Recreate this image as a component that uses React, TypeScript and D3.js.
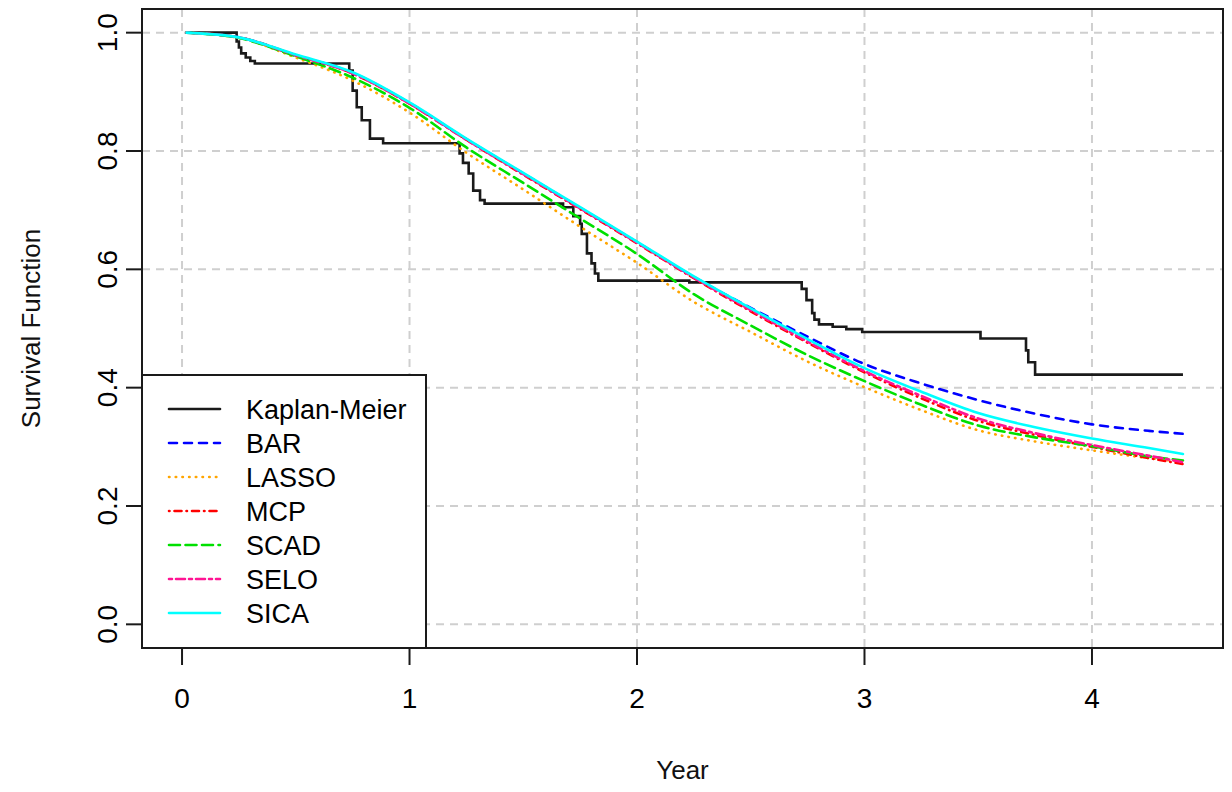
import React from 'react';
import * as d3 from 'd3';

// Kaplan-Meier step estimate (value holds after each time)
const kmTime = [0.02, 0.24, 0.25, 0.26, 0.28, 0.3, 0.32, 0.735, 0.75, 0.768, 0.79, 0.826, 0.884,
  1.22, 1.235, 1.26, 1.28, 1.31, 1.33, 1.675, 1.72, 1.75, 1.757, 1.78, 1.8, 1.815, 1.83, 2.23,
  2.724, 2.745, 2.77, 2.78, 2.8, 2.86, 2.92, 2.99, 3.51, 3.71, 3.72, 3.75, 4.4];
const kmSurv = [1.0, 0.985, 0.975, 0.965, 0.958, 0.952, 0.948, 0.936, 0.902, 0.874, 0.852, 0.821, 0.813,
  0.796, 0.78, 0.762, 0.733, 0.717, 0.711, 0.705, 0.69, 0.677, 0.66, 0.627, 0.61, 0.593, 0.581, 0.578,
  0.567, 0.548, 0.526, 0.515, 0.507, 0.503, 0.499, 0.494, 0.483, 0.463, 0.443, 0.422, 0.422];

// model-based survival curves
const modelTime = [0.02, 0.25, 0.5, 0.75, 1, 1.25, 1.5, 1.75, 2, 2.25, 2.5, 2.75, 3, 3.25, 3.5, 3.75, 4, 4.25, 4.4];
const barSurv = [1, 0.992, 0.962, 0.932, 0.881, 0.82, 0.762, 0.704, 0.646, 0.587, 0.535, 0.486, 0.44, 0.407, 0.379, 0.356, 0.338, 0.327, 0.322];
const lassoSurv = [1, 0.991, 0.958, 0.919, 0.865, 0.797, 0.735, 0.672, 0.611, 0.545, 0.494, 0.444, 0.401, 0.362, 0.328, 0.309, 0.294, 0.281, 0.275];
const mcpSurv = [1, 0.992, 0.962, 0.931, 0.88, 0.819, 0.76, 0.702, 0.644, 0.585, 0.529, 0.476, 0.426, 0.382, 0.344, 0.32, 0.3, 0.281, 0.271];
const scadSurv = [1, 0.991, 0.96, 0.924, 0.873, 0.806, 0.746, 0.686, 0.626, 0.558, 0.505, 0.455, 0.411, 0.371, 0.336, 0.316, 0.301, 0.284, 0.277];
const seloSurv = [1, 0.992, 0.962, 0.931, 0.88, 0.819, 0.761, 0.703, 0.645, 0.586, 0.531, 0.478, 0.428, 0.386, 0.348, 0.323, 0.303, 0.285, 0.274];
const sicaSurv = [1, 0.992, 0.963, 0.933, 0.882, 0.821, 0.763, 0.705, 0.647, 0.588, 0.534, 0.482, 0.433, 0.393, 0.357, 0.333, 0.314, 0.298, 0.288];

const xTicks = [0, 1, 2, 3, 4];
const yTicks = [0, 0.2, 0.4, 0.6, 0.8, 1.0];

const seriesNames = ['Kaplan-Meier', 'BAR', 'LASSO', 'MCP', 'SCAD', 'SELO', 'SICA'];
const seriesColors = ['#1a1a1a', '#0000ff', '#ffa500', '#ff0000', '#00e000', '#ff1493', '#00ffff'];
const seriesDash = [null, '8,7', '0.5,6.2', '0.5,5,7,5', '11,5.5', '3,4,9,4', null];

const FONT = 'Liberation Sans, Arial, sans-serif';

export default function App() {
  const left = 142, right = 1223, top = 9, bottom = 648;

  // R style 4% padding on the data range
  const x = d3.scaleLinear().domain([-0.176, 4.576]).range([left, right]);
  const y = d3.scaleLinear().domain([-0.04, 1.04]).range([bottom, top]);

  const kmLine = d3.line<number>()
    .x((_, i) => x(kmTime[i]))
    .y(d => y(d))
    .curve(d3.curveStepAfter);

  const modelLine = d3.line<number>()
    .x((_, i) => x(modelTime[i]))
    .y(d => y(d))
    .curve(d3.curveMonotoneX);

  const models = [barSurv, lassoSurv, mcpSurv, scadSurv, seloSurv, sicaSurv];

  // legend box
  const legLeft = left, legRight = 426, legTop = 375;
  const legRow0 = 409, legStep = 34;

  return (
    <svg width={1232} height={792} style={{ position: 'absolute', left: 0, top: 0, background: '#fff' }}
      fontFamily={FONT}>
      <rect x={0} y={0} width={1232} height={792} fill="#fff" />

      {/* grid */}
      <g stroke="#cfcfcf" strokeWidth={2} strokeDasharray="8,6">
        {xTicks.map(t => (
          <line key={'gx' + t} x1={x(t)} x2={x(t)} y1={top} y2={bottom} />
        ))}
        {yTicks.map(t => (
          <line key={'gy' + t} x1={left} x2={right} y1={y(t)} y2={y(t)} />
        ))}
      </g>

      {/* curves */}
      <path d={kmLine(kmSurv) || ''} fill="none" stroke={seriesColors[0]} strokeWidth={2.6} />
      {models.map((m, i) => (
        <path key={seriesNames[i + 1]} d={modelLine(m) || ''} fill="none"
          stroke={seriesColors[i + 1]} strokeWidth={2.6} strokeLinecap="round"
          strokeDasharray={seriesDash[i + 1] || undefined} />
      ))}

      {/* legend */}
      <rect x={legLeft} y={legTop} width={legRight - legLeft} height={bottom - legTop}
        fill="#fff" stroke="#1a1a1a" strokeWidth={2} />
      {seriesNames.map((name, i) => {
        const ly = legRow0 + i * legStep;
        return (
          <g key={'leg' + name}>
            <line x1={169} x2={220} y1={ly} y2={ly} stroke={seriesColors[i]} strokeWidth={2.6}
              strokeLinecap="round" strokeDasharray={seriesDash[i] || undefined} />
            <text x={246} y={ly} dy="0.36em" fontSize={27} fill="#000">{name}</text>
          </g>
        );
      })}

      {/* plot frame */}
      <rect x={left} y={top} width={right - left} height={bottom - top} fill="none"
        stroke="#1a1a1a" strokeWidth={2} />

      {/* x axis */}
      {xTicks.map(t => (
        <g key={'xt' + t}>
          <line x1={x(t)} x2={x(t)} y1={bottom} y2={bottom + 17} stroke="#1a1a1a" strokeWidth={2} />
          <text x={x(t)} y={698} dy="0.36em" textAnchor="middle" fontSize={28} fill="#000">{t}</text>
        </g>
      ))}
      <text x={(left + right) / 2} y={770} dy="0.36em" textAnchor="middle" fontSize={26} fill="#111">Year</text>

      {/* y axis */}
      {yTicks.map(t => (
        <g key={'yt' + t}>
          <line x1={left - 16} x2={left} y1={y(t)} y2={y(t)} stroke="#1a1a1a" strokeWidth={2} />
          <text transform={`translate(107,${y(t)}) rotate(-90)`} dy="0.36em" textAnchor="middle"
            fontSize={28} fill="#000">{t.toFixed(1)}</text>
        </g>
      ))}
      <text transform={`translate(31,${(top + bottom) / 2}) rotate(-90)`} dy="0.36em" textAnchor="middle"
        fontSize={26} fill="#111">Survival Function</text>
    </svg>
  );
}
